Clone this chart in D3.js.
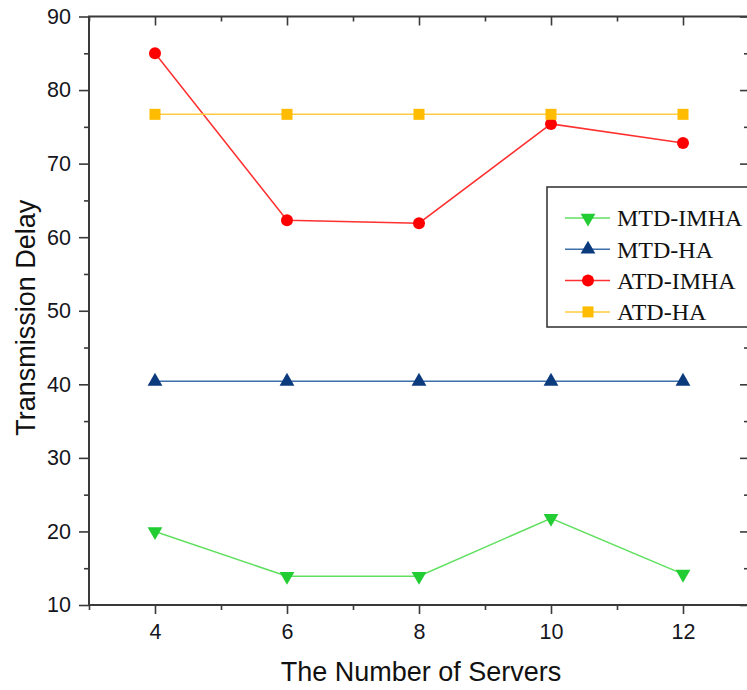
<!DOCTYPE html>
<html>
<head>
<meta charset="utf-8">
<script src="https://cdn.jsdelivr.net/npm/d3@7"></script>
<style>
  body { margin: 0; background: #fff; }
  svg { display: block; }
</style>
</head>
<body>
<svg></svg>
<script>
const width = 747;
const height = 690;

// data
const servers = [4, 6, 8, 10, 12];
const mtdImha = [20, 13.9, 13.9, 21.8, 14.2];
const mtdHa = [40.4, 40.4, 40.4, 40.4, 40.4];
const atdImha = [85, 62.3, 61.9, 75.4, 72.8];
const atdHa = [76.7, 76.7, 76.7, 76.7, 76.7];
const xTicks = [4, 6, 8, 10, 12];
const xMinor = [3, 5, 7, 9, 11, 13];
const yTicks = [10, 20, 30, 40, 50, 60, 70, 80, 90];
const yMinor = [15, 25, 35, 45, 55, 65, 75, 85];
const seriesNames = ["MTD-IMHA", "MTD-HA", "ATD-IMHA", "ATD-HA"];

const series = [
  { name: seriesNames[0], values: mtdImha, line: "#5fe05f", fill: "#22cc33", shape: "down" },
  { name: seriesNames[1], values: mtdHa, line: "#3d6fa8", fill: "#0b3b7c", shape: "up" },
  { name: seriesNames[2], values: atdImha, line: "#ff3030", fill: "#ff0000", shape: "circle" },
  { name: seriesNames[3], values: atdHa, line: "#ffcb40", fill: "#ffbc00", shape: "square" }
];

let svg = d3.select("svg").attr("width", width).attr("height", height);

const plotL = 89, plotR = 749, plotT = 16.5, plotB = 605;
const x = d3.scaleLinear().domain([3, 13]).range([plotL, plotR]);
const y = d3.scaleLinear().domain([10, 90]).range([plotB, plotT]);

const axisColor = "#3a3a3a";
const labelFont = "'Liberation Sans', Arial, sans-serif";
const tickFont = 21.5;

function styleAxis(g, fontSize) {
  g.selectAll("path.domain").remove();
  g.selectAll("line").attr("stroke", axisColor).attr("stroke-width", 1.6);
  g.selectAll("text").attr("font-family", labelFont).attr("font-size", fontSize).attr("fill", "#151520");
}

// minor ticks
svg.append("g").attr("transform", `translate(${plotL},0)`)
  .call(d3.axisLeft(y).tickValues(yMinor).tickSize(5).tickFormat(""))
  .call(g => styleAxis(g, tickFont));
svg.append("g").attr("transform", `translate(${plotR},0)`)
  .call(d3.axisRight(y).tickValues(yMinor).tickSize(-5).tickFormat(""))
  .call(g => styleAxis(g, tickFont));
svg.append("g").attr("transform", `translate(0,${plotB})`)
  .call(d3.axisBottom(x).tickValues(xMinor).tickSize(5).tickFormat(""))
  .call(g => styleAxis(g, tickFont));
svg.append("g").attr("transform", `translate(0,${plotT})`)
  .call(d3.axisTop(x).tickValues(xMinor).tickSize(-5).tickFormat(""))
  .call(g => styleAxis(g, tickFont));

// major ticks
svg.append("g").attr("transform", `translate(${plotL},0)`)
  .call(d3.axisLeft(y).tickValues(yTicks).tickSize(10).tickPadding(8))
  .call(g => styleAxis(g, tickFont));
svg.append("g").attr("transform", `translate(${plotR},0)`)
  .call(d3.axisRight(y).tickValues(yTicks).tickSize(-9).tickFormat(""))
  .call(g => styleAxis(g, tickFont));
svg.append("g").attr("transform", `translate(0,${plotB})`)
  .call(d3.axisBottom(x).tickValues(xTicks).tickSize(9).tickPadding(10))
  .call(g => styleAxis(g, tickFont));
svg.append("g").attr("transform", `translate(0,${plotT})`)
  .call(d3.axisTop(x).tickValues(xTicks).tickSize(-9).tickFormat(""))
  .call(g => styleAxis(g, tickFont));

// frame
svg.append("rect")
  .attr("x", plotL).attr("y", plotT)
  .attr("width", plotR - plotL).attr("height", plotB - plotT)
  .attr("fill", "none").attr("stroke", axisColor).attr("stroke-width", 2);

// axis titles
svg.append("text")
  .attr("x", (plotL + plotR) / 2 + 2).attr("y", 681)
  .attr("text-anchor", "middle")
  .attr("font-family", labelFont).attr("font-size", 27).attr("fill", "#111")
  .text("The Number of Servers");
svg.append("text")
  .attr("transform", `translate(35,${(plotT + plotB) / 2 + 7}) rotate(-90)`)
  .attr("text-anchor", "middle")
  .attr("font-family", labelFont).attr("font-size", 27).attr("fill", "#111")
  .text("Transmission Delay");

const triUp = d3.symbol().type(d3.symbolTriangle).size(95);

function drawMarker(g, shape, fill, cx, cy) {
  if (shape === "circle") {
    g.append("circle").attr("cx", cx).attr("cy", cy).attr("r", 6).attr("fill", fill);
  } else if (shape === "square") {
    g.append("rect").attr("x", cx - 5.5).attr("y", cy - 5.5).attr("width", 11).attr("height", 11).attr("fill", fill);
  } else {
    const rot = shape === "down" ? 180 : 0;
    g.append("path").attr("d", triUp())
      .attr("transform", `translate(${cx},${cy}) rotate(${rot})`)
      .attr("fill", fill);
  }
}

const line = d3.line().x((d, i) => x(servers[i])).y(d => y(d));

series.forEach(s => {
  const g = svg.append("g");
  g.append("path").attr("d", line(s.values))
    .attr("fill", "none").attr("stroke", s.line).attr("stroke-width", 1.5);
  s.values.forEach((v, i) => drawMarker(g, s.shape, s.fill, x(servers[i]), y(v)));
});

// legend
const legend = svg.append("g");
legend.append("rect")
  .attr("x", 547).attr("y", 187).attr("width", 220).attr("height", 140)
  .attr("fill", "#fff").attr("stroke", axisColor).attr("stroke-width", 1.6);
series.forEach((s, i) => {
  const ly = 218 + i * 31.3;
  legend.append("line").attr("x1", 565).attr("x2", 610).attr("y1", ly).attr("y2", ly)
    .attr("stroke", s.line).attr("stroke-width", 1.5);
  drawMarker(legend, s.shape, s.fill, 588, ly);
  legend.append("text")
    .attr("x", 617).attr("y", ly).attr("dy", "0.35em")
    .attr("font-family", "'Liberation Serif', 'Times New Roman', serif")
    .attr("font-size", 24).attr("fill", "#111")
    .text(s.name);
});
</script>
</body>
</html>
